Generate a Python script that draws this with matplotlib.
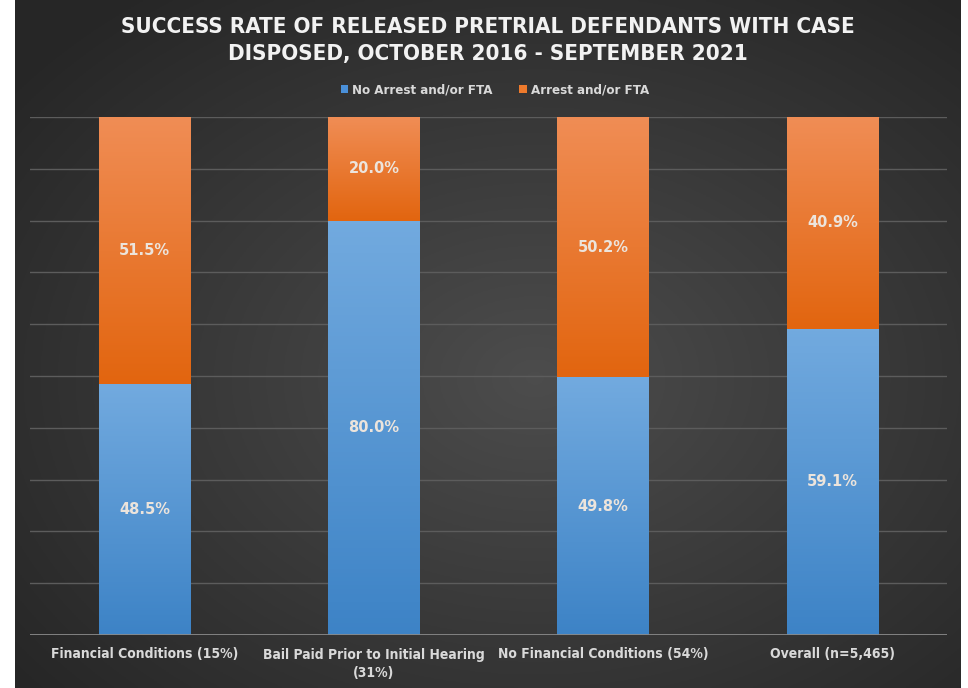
import numpy as np
import matplotlib.pyplot as plt
from matplotlib.patches import Rectangle, Patch

categories = ["Financial Conditions (15%)", "Bail Paid Prior to Initial Hearing\n(31%)",
              "No Financial Conditions (54%)", "Overall (n=5,465)"]
no_arrest = [48.5, 80.0, 49.8, 59.1]
arrest = [51.5, 20.0, 50.2, 40.9]
series_names = ["No Arrest and/or FTA", "Arrest and/or FTA"]

W, H = 968, 688
fig = plt.figure(figsize=(W / 100, H / 100), dpi=100)
fig.patch.set_facecolor("white")

# dark radial background panel
bg = fig.add_axes([15 / W, 0, (961 - 15) / W, 1])
bg.set_axis_off()
yy, xx = np.mgrid[0:1:300j, 0:1:400j]
r = np.sqrt(((xx - 0.55) / 0.75) ** 2 + ((yy - 0.45) / 0.75) ** 2)
g = np.clip(0.30 - 0.16 * r, 0.15, 0.30)
img = np.dstack([g, g, g])
bg.imshow(img, extent=[0, 1, 0, 1], aspect="auto", origin="lower")

ax = fig.add_axes([30 / W, (H - 635) / H, (947 - 30) / W, (635 - 117) / H])
ax.set_facecolor("none")
x = np.arange(len(categories))
width = 0.4
ax.set_xlim(-0.5, len(categories) - 0.5)
ax.set_ylim(0, 100)

for yv in range(10, 101, 10):
    ax.axhline(yv, color="#5c5c5c", lw=1, zorder=1)
ax.axhline(0, color="#8a8a8a", lw=2, zorder=4)


def grad_bar(xc, y0, h, c_top, c_bot):
    rect = Rectangle((xc - width / 2, y0), width, h, facecolor="none", edgecolor="none")
    ax.add_patch(rect)
    c_top = np.array(plt.matplotlib.colors.to_rgb(c_top))
    c_bot = np.array(plt.matplotlib.colors.to_rgb(c_bot))
    t = np.linspace(0, 1, 100)[:, None]
    col = c_bot + (c_top - c_bot) * t
    grad = np.repeat(col[:, None, :], 2, axis=1)
    im = ax.imshow(grad, extent=[xc - width / 2, xc + width / 2, y0, y0 + h],
                   origin="lower", aspect="auto", zorder=2)
    im.set_clip_path(rect)


for i in range(len(categories)):
    grad_bar(x[i], 0, no_arrest[i], "#72aadf", "#3d83c6")
    grad_bar(x[i], no_arrest[i], arrest[i], "#f08d55", "#e2650f")
    ax.text(x[i], no_arrest[i] / 2, f"{no_arrest[i]:.1f}%", ha="center", va="center",
            color="#ece4dc", fontsize=10.5, fontweight="bold", zorder=5)
    ax.text(x[i], no_arrest[i] + arrest[i] / 2, f"{arrest[i]:.1f}%", ha="center", va="center",
            color="#ece4dc", fontsize=10.5, fontweight="bold", zorder=5)

ax.set_xticks(x)
ax.set_xticklabels(categories, color="#d9d9d9", fontsize=10, fontweight="bold",
                   fontstretch="condensed", linespacing=1.4)
ax.tick_params(axis="x", length=0, pad=9)
ax.set_yticks([])
for s in ax.spines.values():
    s.set_visible(False)

fig.text(488 / W, 1 - 27 / H, "SUCCESS RATE OF RELEASED PRETRIAL DEFENDANTS WITH CASE",
         ha="center", va="center", color="#f2f2f2", fontsize=16, fontweight="bold", fontstretch="condensed")
fig.text(488 / W, 1 - 54 / H, "DISPOSED, OCTOBER 2016 - SEPTEMBER 2021",
         ha="center", va="center", color="#f2f2f2", fontsize=16, fontweight="bold", fontstretch="condensed")

handles = [Patch(facecolor="#4a90d9"), Patch(facecolor="#ee7a2c")]
fig.legend(handles, series_names, loc="center", bbox_to_anchor=(495 / W, 1 - 90 / H), ncol=2,
           frameon=False, handlelength=0.6, handleheight=0.6, handletextpad=0.3, columnspacing=2.0,
           prop={"size": 9.5, "weight": "bold", "stretch": "condensed"}, labelcolor="#d9d9d9")

fig.savefig("out.png", dpi=100)
